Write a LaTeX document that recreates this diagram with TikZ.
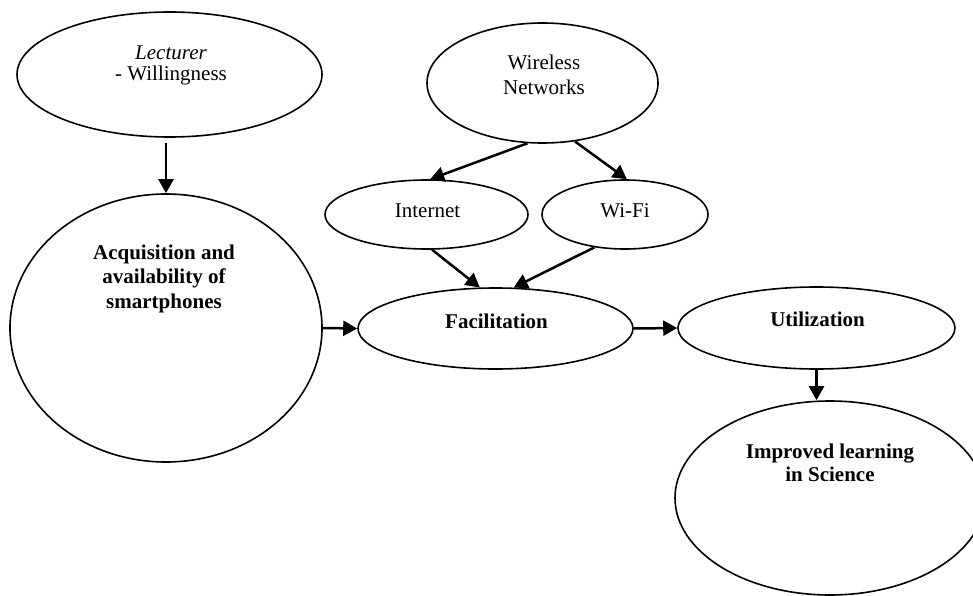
\documentclass[tikz,border=0pt]{standalone}
\usepackage{fontspec}
\setmainfont{Liberation Serif}
\usetikzlibrary{shapes.geometric,arrows.meta}
\begin{document}
\begin{tikzpicture}[x=1pt,y=-1pt,
  oval/.style={ellipse, draw, line width=1.6pt, inner sep=0pt},
  lbl/.style={anchor=base, align=center, inner sep=0pt, font=\fontsize{21}{25}\selectfont},
  arr/.style={line width=2.5pt, -{Triangle[length=14pt,width=15pt]}}]
\useasboundingbox (0,0) rectangle (973,596);
\clip (0,0) rectangle (973,596);
% ovals
\node[oval, minimum width=305pt, minimum height=125pt] (lec) at (169.5,74.5) {};
\node[oval, minimum width=312pt, minimum height=268pt] (acq) at (166,328) {};
\node[oval, minimum width=231pt, minimum height=120pt] (wn) at (542.5,83) {};
\node[oval, minimum width=203pt, minimum height=69pt] (int) at (426.5,214.5) {};
\node[oval, minimum width=166pt, minimum height=69pt] (wifi) at (625,214.5) {};
\node[oval, minimum width=275pt, minimum height=81pt] (fac) at (495.5,328.5) {};
\node[oval, minimum width=277pt, minimum height=82pt] (util) at (816.5,328) {};
\node[oval, minimum width=310pt, minimum height=194pt] (imp) at (830,498) {};
% texts (base = baseline of the last line)
\node[lbl, font=\fontsize{21}{21}\selectfont] (lect) at (171,81) {\textit{Lecturer}\\- Willingness};
\node[lbl] (wnt) at (544,95) {Wireless\\Networks};
\node[lbl, font=\fontsize{21}{24.5}\selectfont\bfseries] (acqt) at (164,308) {Acquisition and\\availability of\\smartphones};
\node[lbl] (intt) at (427.5,217) {Internet};
\node[lbl] (wifit) at (625,217) {Wi-Fi};
\node[lbl, font=\fontsize{21}{25}\selectfont\bfseries] (fact) at (496.5,328) {Facilitation};
\node[lbl, font=\fontsize{21}{25}\selectfont\bfseries] (utilt) at (817.5,326) {Utilization};
\node[lbl, font=\fontsize{21}{23}\selectfont\bfseries] (impt) at (830,481) {Improved learning\\in Science};
% connectors
\coordinate (lecb) at ([yshift=-5pt]lec.south);
\draw[arr] (lecb -| acq.north) -- (acq.north);
\draw[arr] (wn.256) -- (int.84);
\draw[arr] (wn.299) -- (wifi.87);
\draw[arr] (int.279) -- (fac.111);
\draw[arr] (wifi.227) -- (fac.66);
\draw[arr] (acq.east) -- (fac.west);
\draw[arr] (fac.east) -- (util.west);
\draw[arr] (util.south) -- (util.south |- imp.north);
\end{tikzpicture}
\end{document}
